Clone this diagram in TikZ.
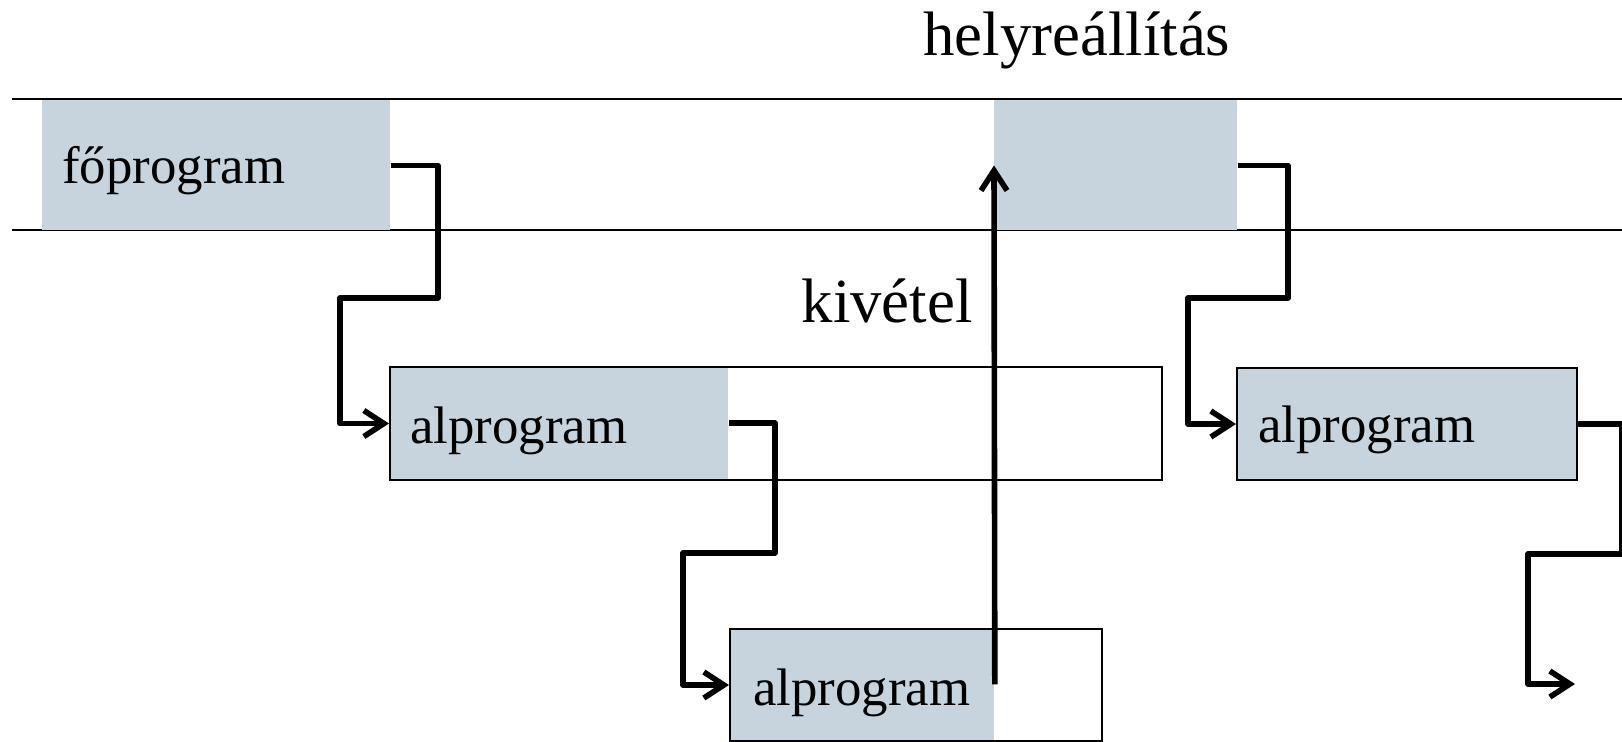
\documentclass[tikz,border=0pt]{standalone}
\usepackage{fontspec}
\setmainfont{Liberation Serif}
\usetikzlibrary{arrows.meta,positioning}
\definecolor{procfill}{RGB}{199,212,221}

\tikzset{
  band/.style={line width=1pt},
  block/.style={fill=procfill,inner sep=0pt,anchor=north west},
  frame/.style={draw,line width=1pt,inner sep=0pt,anchor=north west},
  lbl/.style={inner sep=0pt,anchor=base west,font=\fontsize{26.4}{30}\selectfont},
  note/.style={inner sep=0pt,font=\fontsize{31.4}{36}\selectfont},
  call/.style={line width=2.8pt,line join=round,-{Straight Barb[length=10pt,width=13pt]}},
}

\begin{document}
\begin{tikzpicture}[x=0.5pt,y=-0.5pt]
\useasboundingbox (0,0) rectangle (1622,741);
% band of the main program
\draw[band](12,99)--(1622,99)
(12,230)--(1622,230);
\node[block,minimum width=174pt,minimum height=65pt] (main) at (42,100) {};
\node[block,minimum width=121.5pt,minimum height=65pt] (rest) at (994,100) {};
\node[lbl] (mainlbl) at (62,183) {főprogram};
\node[note,anchor=base west] (restore) at (923,55) {helyreállítás};
%% first call
\node[block,minimum width=169.5pt,minimum height=56.5pt] (sub1) at (389,366) {};
\node[frame,minimum width=386pt,minimum height=56.5pt] (box1) at (389,366) {};
\node[lbl] (sublbl1) at (410,443) {alprogram};
%% nested call, raises the exception
\node[block,minimum width=132.5pt,minimum height=56pt] (sub2) at (729,628) {};
\node[frame,minimum width=186pt,minimum height=56pt] (box2) at (729,628) {};
\node[lbl] (sublbl2) at (753,705) {alprogram};
\node[note,anchor=base east] (exc) at (973,322) {kivétel};
%% call after the restore
\node[block,minimum width=170pt,minimum height=56pt] (sub3) at (1236,367) {};
\node[frame,minimum width=170pt,minimum height=56pt] (box3) at (1236,367) {};
\node[lbl] (sublbl3) at (1258,442) {alprogram};
\coordinate (out) at (1575,684);
%% control flow
\draw[call](main.east)--++(47,0)|-(340,298)|-(box1.west);
\draw[call](sub1.east)--++(46,0)|-(683,553)|-(box2.west);
\draw[call](sub2.east)--(rest.west);
\draw[call](rest.east)--++(50,0)|-(1188,298)|-(box3.west);
\draw[call](box3.east)--++(44,0)|-(1528,554)|-(out);
\end{tikzpicture}
\end{document}
